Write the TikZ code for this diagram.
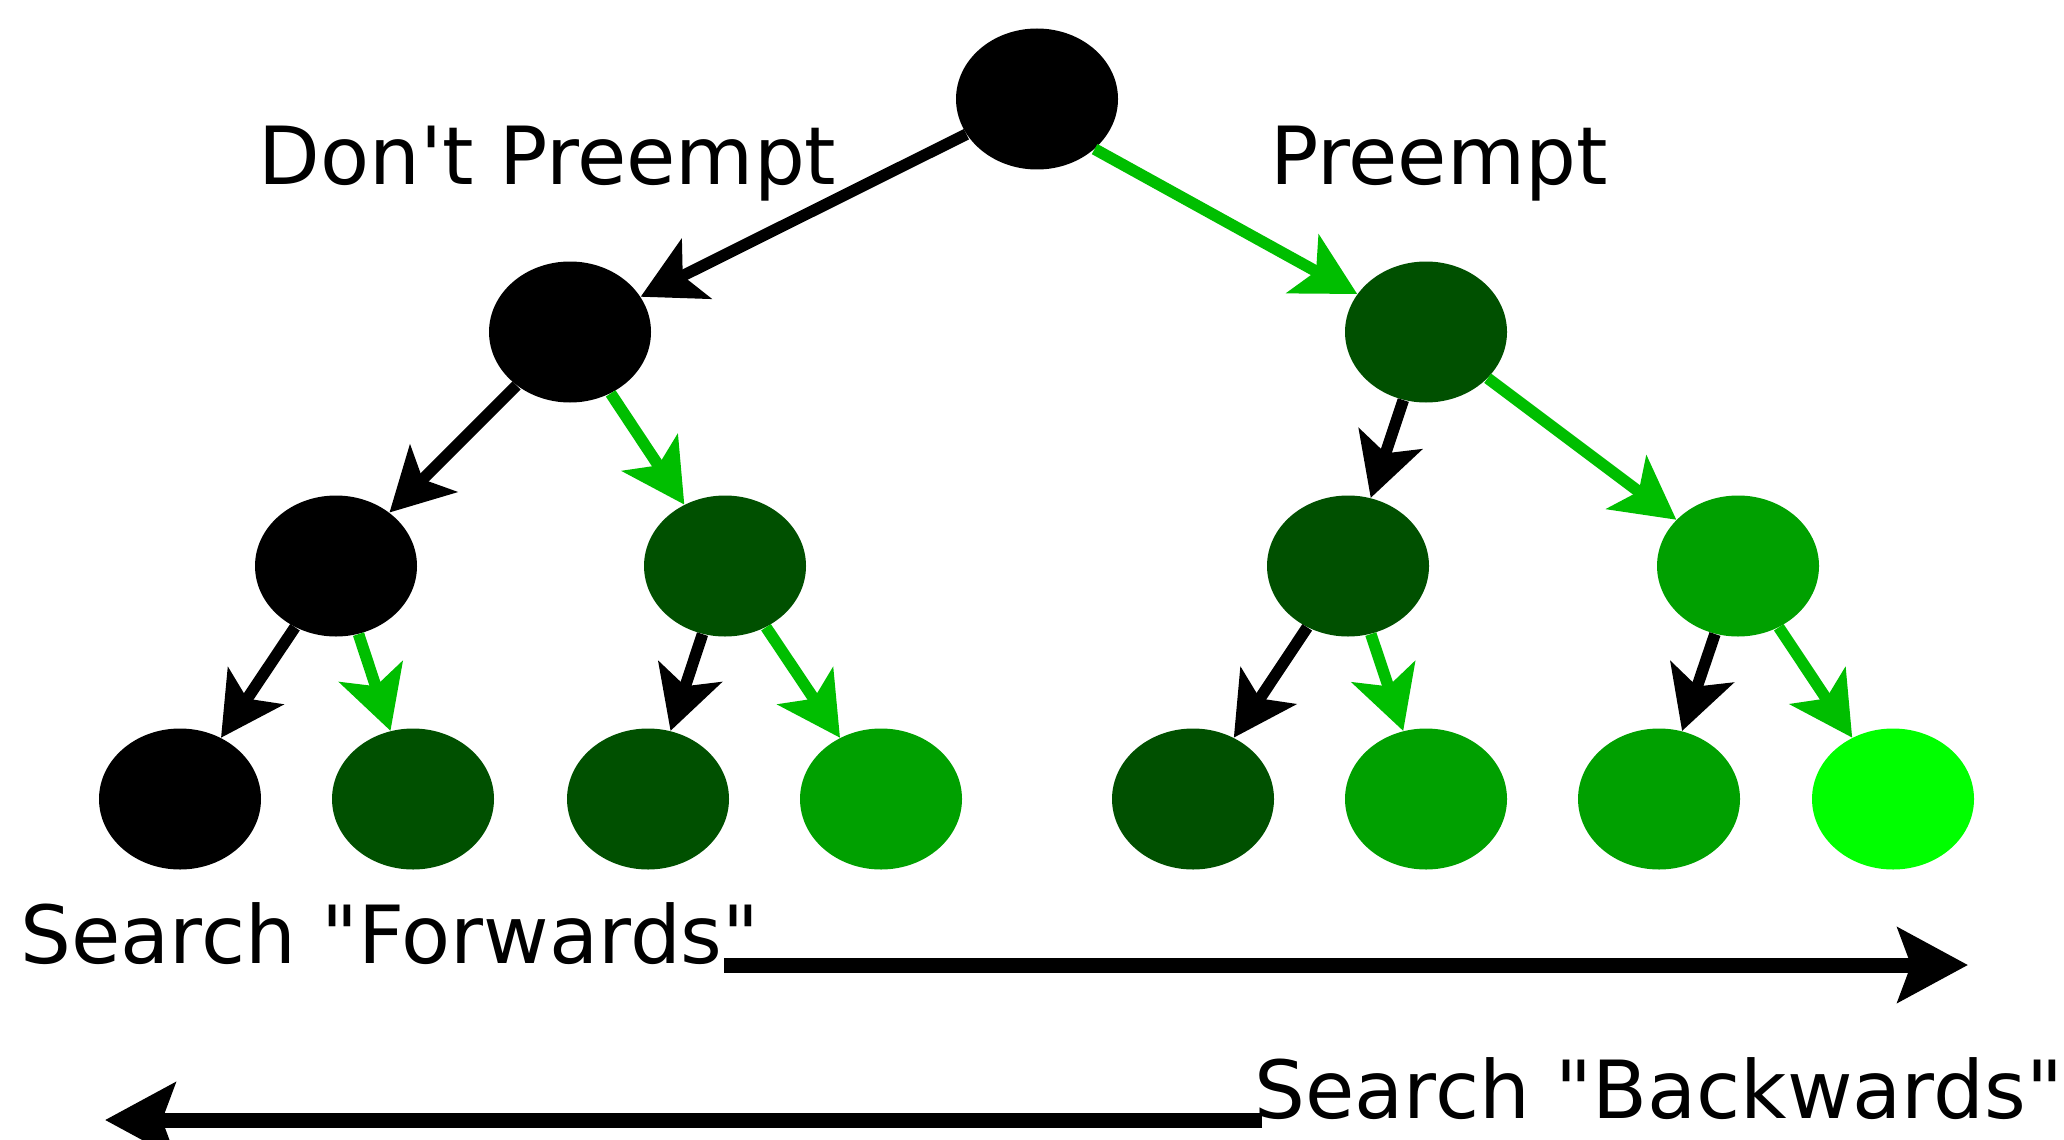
\documentclass[tikz,border=0pt]{standalone}
\usepackage{fontspec}
\setmainfont{DejaVu Sans}[Ligatures=TeXOff]
\usetikzlibrary{shapes.geometric,arrows.meta}
\definecolor{ndark}{RGB}{0,80,0}
\definecolor{nmid}{RGB}{0,160,0}
\definecolor{nbright}{RGB}{0,255,0}
\definecolor{egreen}{RGB}{0,190,0}
\begin{document}
\begin{tikzpicture}[x=0.5pt,y=-0.5pt,
  st/.style={ellipse,minimum width=81pt,minimum height=70.5pt,inner sep=0pt,draw=none,fill=#1},
  bedge/.style={draw=black,line width=5.8pt,-{Stealth[length=31pt,width=33pt,inset=7.5pt]}},
  gedge/.style={draw=egreen,line width=5.8pt,-{Stealth[length=31pt,width=33pt,inset=7.5pt]}},
  dirarrow/.style={draw=black,line width=7.5pt,-{Stealth[length=35pt,width=37pt,inset=6.5pt]}},
  lbl/.style={inner sep=0pt,anchor=base west,font=\fontsize{40.1}{48}\selectfont}]
\useasboundingbox (0,0) rectangle (2064,1139);
% nodes
\node[st=black] (root) at (1037,99) {};
\node[st=black] (l1a) at (570,332) {};
\node[st=ndark] (l1b) at (1426,332) {};
\node[st=black] (l2a) at (336,566) {};
\node[st=ndark] (l2b) at (725,566) {};
\node[st=ndark] (l2c) at (1348,566) {};
\node[st=nmid]  (l2d) at (1738,566) {};
\node[st=black] (l3a) at (180,799) {};
\node[st=ndark] (l3b) at (413,799) {};
\node[st=ndark] (l3c) at (648,799) {};
\node[st=nmid]  (l3d) at (881,799) {};
\node[st=ndark] (l3e) at (1193,799) {};
\node[st=nmid]  (l3f) at (1426,799) {};
\node[st=nmid]  (l3g) at (1659,799) {};
\node[st=nbright] (l3h) at (1893,799) {};
% edges
\draw[bedge] (root) -- (l1a);
\draw[gedge] (root.-41.7) -- (l1b);
\draw[bedge] (l1a) -- (l2a);
\draw[gedge] (l1a) -- (l2b);
\draw[bedge] (l1b) -- (l2c);
\draw[gedge] (l1b) -- (l2d);
\draw[bedge] (l2a) -- (l3a);
\draw[gedge] (l2a) -- (l3b);
\draw[bedge] (l2b) -- (l3c);
\draw[gedge] (l2b) -- (l3d);
\draw[bedge] (l2c) -- (l3e);
\draw[gedge] (l2c) -- (l3f);
\draw[bedge] (l2d) -- (l3g);
\draw[gedge] (l2d) -- (l3h);
% labels
\node[lbl] (dont) at (258,185) {Don't Preempt};
\node[lbl] (pre) at (1270,185) {Preempt};
\node[lbl] (fwd) at (20,963) {Search "Forwards"};
\node[lbl] (bwd) at (1254,1118) {Search "Backwards"};
% direction arrows
\coordinate (fs) at (724,965);
\coordinate (fe) at (1968,965);
\coordinate (bs) at (1262,1120);
\coordinate (be) at (105,1120);
\draw[dirarrow] (fs) -- (fe);
\draw[dirarrow] (bs) -- (be);
\end{tikzpicture}
\end{document}
